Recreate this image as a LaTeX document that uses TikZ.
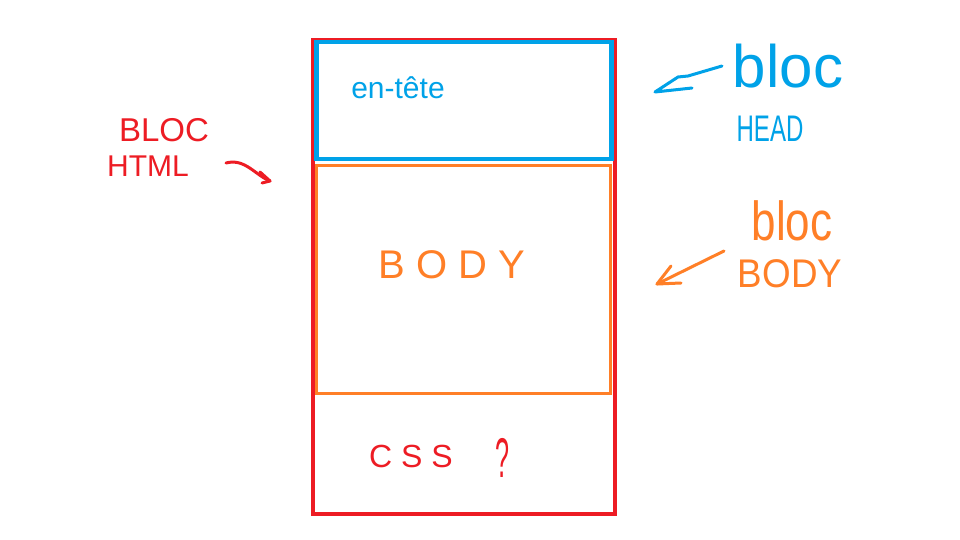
\documentclass[tikz,border=0pt]{standalone}
\usepackage{fontspec}
\setmainfont{Liberation Sans}
\definecolor{pred}{HTML}{ED1C24}
\definecolor{pblue}{HTML}{00A2E8}
\definecolor{porange}{HTML}{FF7F27}
\tikzset{
  boxnode/.style={draw, inner sep=0pt, anchor=north west},
  hand/.style={line width=3pt, line cap=round, line join=round},
  lbl/.style={inner sep=0pt},
}
\newcommand{\fs}[1]{\fontsize{#1}{#1}\selectfont}
\begin{document}
\begin{tikzpicture}[x=1pt, y=-1pt]
\useasboundingbox (0,0) rectangle (960,540);
\fill[white] (0,0) rectangle (960,540);
% boxes
\node[boxnode, pred, line width=4pt, minimum width=302pt, minimum height=474pt] (html) at (311,38) {};
\node[boxnode, pblue, line width=4.5pt, minimum width=295pt, minimum height=117pt] (head) at (314,40) {};
\node[boxnode, porange, line width=3pt, minimum width=294pt, minimum height=228pt] (body) at (315,164) {};
% texts inside
\node[lbl, pblue, font=\fs{30}] (entete) at (398,88) {en-tête};
\node[lbl, porange, font=\fs{40}] (bodytxt) at (452,265) {B O D Y};
\node[lbl, pred, font=\fs{32}] (css) at (411,456) {C S S};
\node[lbl, pred, font=\fs{56}] (qm) at (502,458) {\scalebox{0.45}[1]{?}};
% left label
\node[lbl, pred, font=\fs{33}] (bloc1) at (164,130) {BLOC};
\node[lbl, pred, font=\fs{30}] (html1) at (148,166) {HTML};
\coordinate (ha) at (226,163);
\coordinate (hb) at (270,181);
\draw[hand, pred] (ha) .. controls (245,158) and (255,175) .. (hb);
\draw[hand, pred] (260,172) -- (hb) -- (262,183);
% head label
\node[lbl, pblue, font=\fs{60}] (bloc2) at (788,66) {\scalebox{1}[1]{bloc}};
\node[lbl, pblue, font=\fs{37}] (headl) at (770,129) {\scalebox{0.65}[1]{HEAD}};
\coordinate (ba) at (722,66);
\coordinate (bb) at (655,92);
\draw[hand, pblue] (ba) -- (688,76) -- (678,77) -- (bb) -- (692,88);
% body label
\node[lbl, porange, font=\fs{55}] (bloc3) at (792,221) {\scalebox{0.8}[1]{bloc}};
\node[lbl, porange, font=\fs{40}] (bodyl) at (790,274) {\scalebox{0.92}[1]{BODY}};
\coordinate (oa) at (724,251);
\coordinate (ob) at (657,284);
\draw[hand, porange] (oa) -- (ob);
\draw[hand, porange] (671,266) -- (ob) -- (681,283);
\end{tikzpicture}
\end{document}
